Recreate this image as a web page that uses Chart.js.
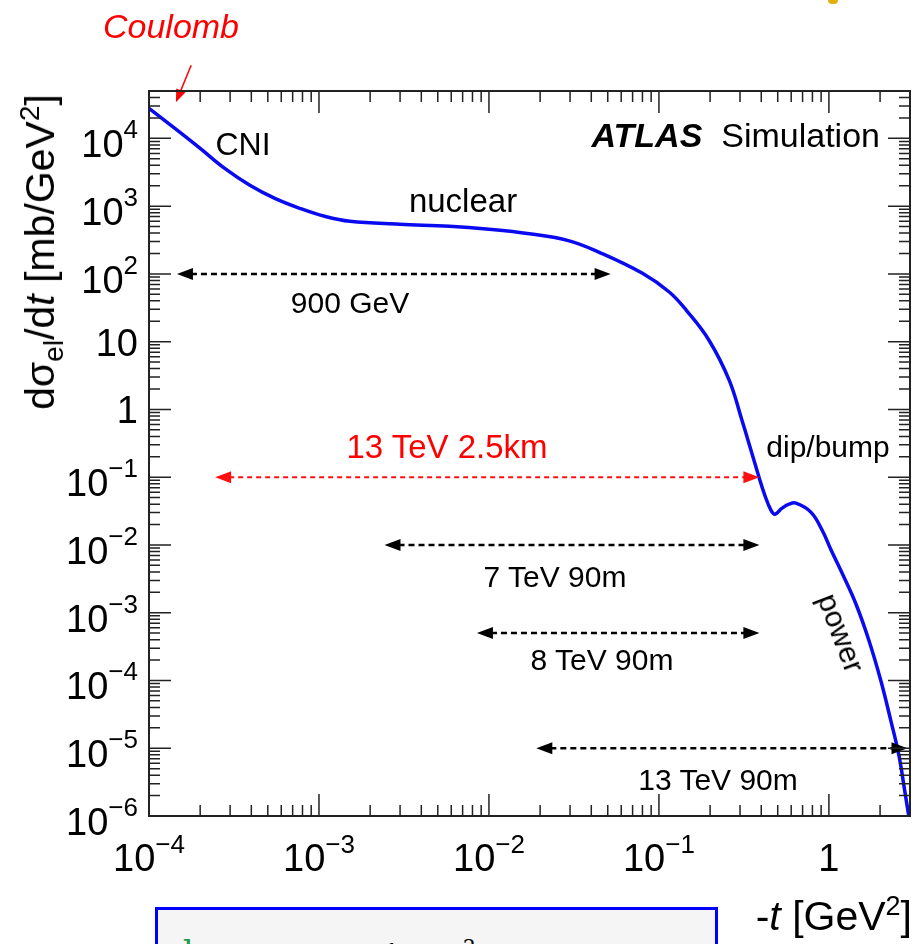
<!DOCTYPE html>
<html lang="en">
<head>
<meta charset="UTF-8">
<title>Elastic differential cross section</title>
<script src="https://cdn.jsdelivr.net/npm/chart.js"></script>
<style>
  html, body { margin: 0; padding: 0; background: #fff; }
  body { width: 917px; height: 944px; position: relative; overflow: hidden;
         font-family: 'Liberation Sans', Arial, Helvetica, sans-serif; }
  #chart { position: absolute; left: 0; top: 0; }
  .lbl { position: absolute; line-height: 1; white-space: nowrap; color: #000; }
  .c { transform: translateX(-50%); }
  #formula { position: absolute; left: 155px; top: 907px; width: 557px; height: 60px;
             border: 3px solid #0000ff; background: #f5f5f5; overflow: hidden; }
  #formula span { position: absolute; line-height: 1; font-family: 'DejaVu Serif', 'Liberation Serif', serif; white-space: nowrap; }
</style>
</head>
<body>
<canvas id="chart" width="917" height="944"></canvas>

<div class="lbl" style="left:828px;top:0;width:10px;height:4px;background:#e2b00c;border-radius:0 0 4px 4px"></div>

<div class="lbl c" style="left:171px;top:9px;font-size:34px;font-style:italic;color:#f00">Coulomb</div>
<div class="lbl c" style="left:243px;top:128px;font-size:32px">CNI</div>
<div class="lbl c" style="left:463px;top:184px;font-size:33px">nuclear</div>
<div class="lbl" style="right:37px;top:118px;font-size:34px"><b><i>ATLAS</i></b>&nbsp;&nbsp;Simulation</div>
<div class="lbl c" style="left:350px;top:288px;font-size:30px">900 GeV</div>
<div class="lbl c" style="left:447px;top:430px;font-size:33px;color:#f00">13 TeV 2.5km</div>
<div class="lbl c" style="left:828px;top:432px;font-size:30px">dip/bump</div>
<div class="lbl c" style="left:555px;top:562px;font-size:30px">7 TeV 90m</div>
<div class="lbl c" style="left:602px;top:645px;font-size:30px">8 TeV 90m</div>
<div class="lbl c" style="left:718px;top:765px;font-size:30px">13 TeV 90m</div>
<div class="lbl" style="left:841px;top:633px;font-size:30px;transform:translate(-50%,-50%) rotate(69deg)">power</div>

<div class="lbl" style="left:42px;top:252px;font-size:41px;transform:translate(-50%,-50%) rotate(-90deg)">d&sigma;<sub style="font-size:28px;vertical-align:-9px">el</sub>/d<i>t</i> [mb/GeV<sup style="font-size:28px;vertical-align:15px">2</sup>]</div>
<div class="lbl" style="right:5px;top:893px;font-size:41px">-<i>t</i> [GeV<sup style="font-size:27px;vertical-align:15px">2</sup>]</div>

<div id="formula">
  <span style="left:14px;top:25px;font-size:34px;color:#1f9a4e">d&sigma;</span>
  <span style="left:224px;top:27px;font-size:30px;color:#000">1 + &rho;<sup style="font-size:20px">2</sup></span>
</div>

<script>
// -t [GeV^2] and d sigma_el / dt [mb/GeV^2]
const tValues = [1.0e-4, 1.42e-4, 2.0e-4, 2.79e-4, 3.92e-4, 5.5e-4, 7.7e-4, 1.08e-3, 1.52e-3, 2.98e-3,
                 5.86e-3, 1.0e-2, 1.73e-2, 2.93e-2, 4.46e-2, 8.0e-2, 0.115, 0.145, 0.197, 0.259,
                 0.308, 0.348, 0.388, 0.42, 0.456, 0.482, 0.53, 0.582, 0.64, 0.783,
                 0.913, 1.03, 1.21, 1.45, 1.72, 2.02, 2.31, 2.58, 2.79, 2.95];
const dsdt = [2.77e4, 1.40e4, 7.1e3, 3.6e3, 2.03e3, 1.30e3, 929, 708, 597, 540,
              504, 455, 390, 310, 208, 102, 54, 29, 10.5, 2.7,
              0.69, 0.25, 0.1, 0.054, 0.0326, 0.0284, 0.0349, 0.040, 0.0414, 0.0305,
              0.0165, 8.4e-3, 3.6e-3, 1.3e-3, 3.9e-4, 1.0e-4, 2.6e-5, 7.9e-6, 2.4e-6, 1.0e-6];

// t ranges reachable by each run (arrows)
const arrowFrom = [1.46e-4, 2.45e-4, 2.43e-3, 8.5e-3, 0.019];
const arrowTo = [0.052, 0.39, 0.39, 0.39, 2.9];
const arrowLevel = [100, 0.1, 0.01, 5e-4, 1e-5];
const arrowRed = [false, true, false, false, false];

// Coulomb pointer: tail and tip in (t, dsigma/dt)
const coulombTail = [1.77e-4, 1.2e5];
const coulombTip = [1.44e-4, 3.4e4];

// axis ticks
const xTicks = [1e-4, 1e-3, 1e-2, 1e-1, 1];
const xTickLabels = [['10', '\u22124'], ['10', '\u22123'], ['10', '\u22122'], ['10', '\u22121'], ['1', '']];
const yTicks = [1e-6, 1e-5, 1e-4, 1e-3, 1e-2, 1e-1, 1, 10, 100, 1e3, 1e4];
const yTickLabels = [['10', '\u22126'], ['10', '\u22125'], ['10', '\u22124'], ['10', '\u22123'], ['10', '\u22122'],
                     ['10', '\u22121'], ['1', ''], ['10', ''], ['10', '2'], ['10', '3'], ['10', '4']];

const FONT = "'Liberation Sans', Arial, Helvetica, sans-serif";

function minorValues(lo, hi) {
    const out = [];
    for (let e = Math.floor(Math.log10(lo)); e <= Math.ceil(Math.log10(hi)); e++) {
        for (let m = 2; m <= 9; m++) {
            const v = m * Math.pow(10, e);
            if (v > lo && v < hi) out.push(v);
        }
    }
    return out;
}

// ROOT style frame with inward ticks on all four sides and superscript labels
const rootAxes = {
    id: 'rootAxes',
    afterDraw(chart) {
        const { ctx, chartArea: a, scales: { x, y } } = chart;
        ctx.save();
        ctx.strokeStyle = '#222';
        ctx.lineWidth = 1.5;
        ctx.beginPath();
        const tickX = (v, len) => {
            const px = x.getPixelForValue(v);
            ctx.moveTo(px, a.bottom); ctx.lineTo(px, a.bottom - len);
            ctx.moveTo(px, a.top); ctx.lineTo(px, a.top + len);
        };
        const tickY = (v, len) => {
            const py = y.getPixelForValue(v);
            ctx.moveTo(a.left, py); ctx.lineTo(a.left + len, py);
            ctx.moveTo(a.right, py); ctx.lineTo(a.right - len, py);
        };
        xTicks.forEach(v => tickX(v, 22));
        minorValues(x.min, x.max).forEach(v => tickX(v, 11));
        yTicks.forEach(v => tickY(v, 22));
        minorValues(y.min, y.max).forEach(v => tickY(v, 11));
        ctx.stroke();

        ctx.lineWidth = 2;
        ctx.strokeRect(a.left, a.top, a.right - a.left, a.bottom - a.top);

        ctx.fillStyle = '#000';
        ctx.textBaseline = 'alphabetic';
        ctx.textAlign = 'left';
        xTicks.forEach((v, i) => {
            const [base, exp] = xTickLabels[i];
            ctx.font = '38px ' + FONT;
            const wb = ctx.measureText(base).width;
            ctx.font = '26px ' + FONT;
            const we = exp ? ctx.measureText(exp).width : 0;
            const start = x.getPixelForValue(v) - (wb + we) / 2;
            ctx.font = '38px ' + FONT;
            ctx.fillText(base, start, 871);
            if (exp) { ctx.font = '26px ' + FONT; ctx.fillText(exp, start + wb, 853); }
        });
        const right = a.left - 11;
        yTicks.forEach((v, i) => {
            const [base, exp] = yTickLabels[i];
            const py = y.getPixelForValue(v);
            ctx.font = '26px ' + FONT;
            const we = exp ? ctx.measureText(exp).width : 0;
            ctx.font = '38px ' + FONT;
            const wb = ctx.measureText(base).width;
            const baseY = exp ? py + 19 : py + 14;
            ctx.fillText(base, right - we - wb, baseY);
            if (exp) { ctx.font = '26px ' + FONT; ctx.fillText(exp, right - we, baseY - 19); }
        });
        ctx.restore();
    }
};

function head(ctx, tx, ty, ang, len, half) {
    ctx.beginPath();
    ctx.moveTo(tx, ty);
    ctx.lineTo(tx - len * Math.cos(ang) + half * Math.sin(ang), ty - len * Math.sin(ang) - half * Math.cos(ang));
    ctx.lineTo(tx - len * Math.cos(ang) - half * Math.sin(ang), ty - len * Math.sin(ang) + half * Math.cos(ang));
    ctx.closePath();
    ctx.fill();
}

// dashed double arrows for the t ranges, plus the Coulomb pointer
const arrows = {
    id: 'arrows',
    afterDatasetsDraw(chart) {
        const { ctx, scales: { x, y } } = chart;
        ctx.save();
        arrowFrom.forEach((t0, i) => {
            const x0 = x.getPixelForValue(t0);
            const x1 = x.getPixelForValue(arrowTo[i]);
            const py = y.getPixelForValue(arrowLevel[i]);
            const col = arrowRed[i] ? '#ff1010' : '#000';
            ctx.strokeStyle = col;
            ctx.fillStyle = col;
            ctx.lineWidth = arrowRed[i] ? 2 : 2.5;
            ctx.setLineDash(arrowRed[i] ? [5, 4] : [6, 4]);
            ctx.beginPath();
            ctx.moveTo(x0 + 14, py);
            ctx.lineTo(x1 - 14, py);
            ctx.stroke();
            ctx.setLineDash([]);
            head(ctx, x0, py, Math.PI, 16, 6);
            head(ctx, x1, py, 0, 16, 6);
        });
        const cx0 = x.getPixelForValue(coulombTail[0]), cy0 = y.getPixelForValue(coulombTail[1]);
        const cx1 = x.getPixelForValue(coulombTip[0]), cy1 = y.getPixelForValue(coulombTip[1]);
        const ang = Math.atan2(cy1 - cy0, cx1 - cx0);
        ctx.strokeStyle = '#ff0000';
        ctx.fillStyle = '#ff0000';
        ctx.lineWidth = 1.5;
        ctx.beginPath();
        ctx.moveTo(cx0, cy0);
        ctx.lineTo(cx1 - 10 * Math.cos(ang), cy1 - 10 * Math.sin(ang));
        ctx.stroke();
        head(ctx, cx1, cy1, ang, 13, 5);
        ctx.restore();
    }
};

new Chart(document.getElementById('chart'), {
    type: 'line',
    data: {
        datasets: [{
            data: tValues.map((t, i) => ({ x: t, y: dsdt[i] })),
            borderColor: '#0a0af0',
            borderWidth: 3.5,
            pointRadius: 0,
            fill: false,
            tension: 0.4
        }]
    },
    options: {
        responsive: false,
        animation: false,
        layout: { padding: { left: 149, top: 91, right: 7, bottom: 128 } },
        plugins: { legend: { display: false }, tooltip: { enabled: false } },
        scales: {
            x: { type: 'logarithmic', min: 1e-4, max: 3, display: false },
            y: { type: 'logarithmic', min: 1e-6, max: 5e4, display: false }
        }
    },
    plugins: [rootAxes, arrows]
});
</script>
</body>
</html>
